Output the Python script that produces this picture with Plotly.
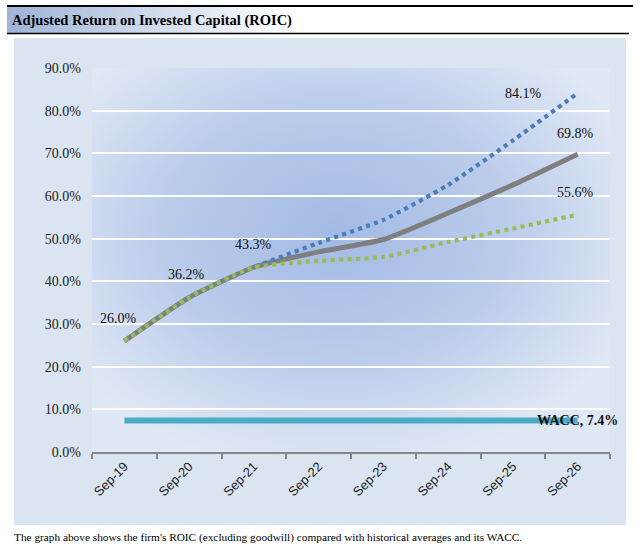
import base64
import plotly.graph_objects as go

categories = ["Sep-19", "Sep-20", "Sep-21", "Sep-22", "Sep-23", "Sep-24", "Sep-25", "Sep-26"]
roic_base = [26.0, 36.2, 43.3, 46.9, 49.8, 56.0, 62.6, 69.8]
roic_upside = [26.0, 36.2, 43.3, 49.0, 54.4, 62.6, 73.0, 84.1]
roic_downside = [26.0, 36.2, 43.3, 44.8, 45.7, 49.2, 52.4, 55.6]
wacc = [7.4] * len(categories)
y_ticks = [0, 10, 20, 30, 40, 50, 60, 70, 80, 90]

W, H = 640, 552
L, R, T, B = 92, 610, 68, 452  # plot area pixels

svg = f'''<svg xmlns="http://www.w3.org/2000/svg" width="{W}" height="{H}" viewBox="0 0 {W} {H}">
<defs>
<linearGradient id="tg" x1="0" y1="0" x2="1" y2="0">
<stop offset="0" stop-color="#9db3d6"/><stop offset="0.45" stop-color="#ffffff"/><stop offset="1" stop-color="#ffffff"/>
</linearGradient>
<radialGradient id="pg" cx="0.47" cy="0.43" r="0.62">
<stop offset="0" stop-color="#a3bae4"/><stop offset="0.55" stop-color="#bccdeb"/><stop offset="1" stop-color="#e0e8f5"/>
</radialGradient>
</defs>
<rect x="7" y="7" width="622" height="26" fill="url(#tg)"/>
<line x1="7" y1="6" x2="633" y2="6" stroke="#000" stroke-width="2"/>
<line x1="7" y1="33.5" x2="629" y2="33.5" stroke="#000" stroke-width="1.5"/>
<rect x="14" y="38" width="612" height="487" fill="#dbe5f1"/>
<rect x="{L}" y="{T}" width="{R-L}" height="{B-T}" fill="url(#pg)"/>
</svg>'''
src = "data:image/svg+xml;base64," + base64.b64encode(svg.encode()).decode()

fig = go.Figure()

fig.add_trace(go.Scatter(x=categories, y=wacc, mode="lines",
                         line=dict(color="#4bacc6", width=6), hoverinfo="skip"))
fig.add_trace(go.Scatter(x=categories, y=roic_base, mode="lines",
                         line=dict(color="#7f7f7f", width=5, shape="spline", smoothing=0.5)))
fig.add_trace(go.Scatter(x=categories, y=roic_upside, mode="lines",
                         line=dict(color="#4a7ebb", width=4.2, dash="dot", shape="spline", smoothing=0.5)))
fig.add_trace(go.Scatter(x=categories, y=roic_downside, mode="lines",
                         line=dict(color="#9bbb59", width=4.2, dash="dot", shape="spline", smoothing=0.5)))

lab_font = dict(family="Liberation Serif, Times New Roman, serif", size=14, color="#111111")
labels = [
    (categories[0], roic_base[0], -6, 23, f"{roic_base[0]:.1f}%"),
    (categories[1], roic_base[1], -3, 23, f"{roic_base[1]:.1f}%"),
    (categories[2], roic_base[2], 0, 23, f"{roic_base[2]:.1f}%"),
    (categories[7], roic_upside[7], -54, 0, f"{roic_upside[7]:.1f}%"),
    (categories[7], roic_base[7], -2, 21, f"{roic_base[7]:.1f}%"),
    (categories[7], roic_downside[7], -2, 22, f"{roic_downside[7]:.1f}%"),
]
for x, y, xs, ys, t in labels:
    fig.add_annotation(x=x, y=y, text=t, showarrow=False, xshift=xs, yshift=ys, font=lab_font)
fig.add_annotation(x=categories[7], y=wacc[7], text=f"<b>WACC, {wacc[7]:.1f}%</b>", showarrow=False,
                   xshift=0, yshift=0, font=lab_font)

# title and caption
fig.add_annotation(xref="paper", yref="paper", x=(10 - L) / (R - L), y=(B - 20) / (B - T),
                   xanchor="left", yanchor="middle", showarrow=False,
                   text="<b>Adjusted Return on Invested Capital (ROIC)</b>",
                   font=dict(family="Liberation Serif, Times New Roman, serif", size=14.5, color="#000"))
fig.add_annotation(xref="paper", yref="paper", x=(12 - L) / (R - L), y=(B - 537) / (B - T),
                   xanchor="left", yanchor="middle", showarrow=False,
                   text="The graph above shows the firm's ROIC (excluding goodwill) compared with historical averages and its WACC.",
                   font=dict(family="Liberation Serif, Times New Roman, serif", size=11.3, color="#000"))

fig.add_layout_image(dict(source=src, xref="paper", yref="paper",
                          x=-L / (R - L), y=B / (B - T), sizex=W / (R - L), sizey=H / (B - T),
                          xanchor="left", yanchor="top", sizing="stretch", layer="below"))

fig.update_layout(
    width=W, height=H, showlegend=False,
    margin=dict(l=L, r=W - R, t=T, b=H - B, pad=0, autoexpand=False),
    paper_bgcolor="white", plot_bgcolor="rgba(0,0,0,0)",
    xaxis=dict(type="category", range=[-0.5, 7.5], showgrid=False, showline=True, automargin=False,
               linecolor="#868686", linewidth=1.5, ticks="outside", tickson="boundaries",
               ticklen=5, tickcolor="#868686", tickwidth=1.5, tickangle=-45,
               tickfont=dict(family="Liberation Sans, Arial, sans-serif", size=13, color="#222"),
               fixedrange=True),
    yaxis=dict(range=[0, 90], tickvals=y_ticks, ticktext=[f"{v:.1f}%" for v in y_ticks],
               showgrid=True, gridcolor="white", gridwidth=2, zeroline=False, showline=False,
               ticks="", ticklabelstandoff=10, automargin=False,
               tickfont=dict(family="Liberation Serif, Times New Roman, serif", size=14, color="#222"),
               fixedrange=True),
)

fig.write_html("out.html", config={"displayModeBar": False},
               post_script="document.body.style.margin='0';document.body.style.overflow='hidden';")
